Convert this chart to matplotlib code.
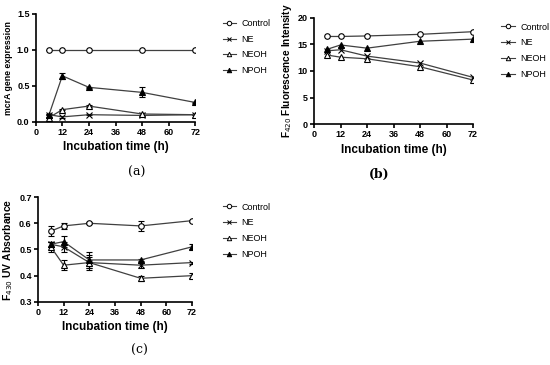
import matplotlib
matplotlib.use("Agg")
import matplotlib.pyplot as plt
from matplotlib.lines import Line2D

plt.rcParams['font.family'] = ['Liberation Sans', 'DejaVu Sans']

hours = [6, 12, 24, 48, 72]
series = ['Control', 'NE', 'NEOH', 'NPOH']

# (a) mcrA gene expression
mcra = {
    'Control': [1.0, 1.0, 1.0, 1.0, 1.0],
    'NE': [0.10, 0.07, 0.10, 0.09, 0.10],
    'NEOH': [0.06, 0.17, 0.22, 0.11, 0.10],
    'NPOH': [0.10, 0.64, 0.48, 0.41, 0.27],
}
mcra_err = {
    'Control': [0, 0, 0, 0, 0],
    'NE': [0.01, 0.01, 0.01, 0.01, 0.01],
    'NEOH': [0.01, 0.01, 0.01, 0.02, 0.01],
    'NPOH': [0.01, 0.04, 0.01, 0.07, 0.01],
}

# (b) F420 fluorescence intensity
f420 = {
    'Control': [16.5, 16.5, 16.6, 16.9, 17.4],
    'NE': [13.8, 14.0, 12.8, 11.5, 8.8],
    'NEOH': [13.0, 12.6, 12.3, 10.8, 8.3],
    'NPOH': [14.1, 14.9, 14.3, 15.6, 16.0],
}

# (c) F430 UV absorbance
f430 = {
    'Control': [0.57, 0.59, 0.60, 0.59, 0.61],
    'NE': [0.52, 0.51, 0.45, 0.44, 0.45],
    'NEOH': [0.51, 0.44, 0.45, 0.39, 0.40],
    'NPOH': [0.52, 0.53, 0.46, 0.46, 0.51],
}
f430_err = {
    'Control': [0.02, 0.01, 0.004, 0.02, 0.004],
    'NE': [0.01, 0.02, 0.02, 0.01, 0.004],
    'NEOH': [0.02, 0.02, 0.03, 0.01, 0.01],
    'NPOH': [0.01, 0.02, 0.03, 0.005, 0.01],
}

styles = {
    'Control': dict(marker='o', mfc='white'),
    'NE': dict(marker='x', mfc='black'),
    'NEOH': dict(marker='^', mfc='white'),
    'NPOH': dict(marker='^', mfc='black'),
}
line_col = '#404040'


def draw(ax, data, err, ylim, yticks, ylabel, ylabelsize):
    for s in series:
        e = err[s] if err is not None else None
        ax.errorbar(hours, data[s], yerr=e, color=line_col, lw=0.9,
                    marker=styles[s]['marker'], mfc=styles[s]['mfc'],
                    mec='black', ms=4, mew=0.8, ecolor='black',
                    elinewidth=0.8, capsize=2, capthick=0.8, label=s)
    ax.set_xlim(0, 72)
    ax.set_xticks([0, 12, 24, 36, 48, 60, 72])
    ax.set_ylim(*ylim)
    ax.set_yticks(yticks)
    for sp in ['top', 'right']:
        ax.spines[sp].set_visible(False)
    for sp in ['left', 'bottom']:
        ax.spines[sp].set_linewidth(1.2)
    ax.tick_params(width=1.2, length=3, labelsize=6.5, pad=1.5)
    for lab in ax.get_xticklabels() + ax.get_yticklabels():
        lab.set_fontweight('bold')
    ax.set_xlabel('Incubation time (h)', fontsize=8.5, fontweight='bold', labelpad=3)
    ax.set_ylabel(ylabel, fontsize=ylabelsize, fontweight='bold', labelpad=3)


def legend(fig, x, y):
    handles = [Line2D([], [], color=line_col, lw=0.8, marker=styles[s]['marker'],
                      mfc=styles[s]['mfc'], mec='black', ms=3.2, mew=0.7)
               for s in series]
    fig.legend(handles, series, loc='upper left', bbox_to_anchor=(x, y),
               frameon=False, fontsize=6.5, handlelength=1.5, handletextpad=0.6,
               labelspacing=0.75, borderaxespad=0)


fig = plt.figure(figsize=(5.5, 3.65), dpi=100)

ax_a = fig.add_axes([0.065, 0.666, 0.29, 0.296])
draw(ax_a, mcra, mcra_err, (0, 1.5), [0, 0.5, 1.0, 1.5], 'mcrA gene expression', 6.3)
ax_a.set_yticklabels(['0.0', '0.5', '1.0', '1.5'], fontweight='bold')
legend(fig, 0.398, 0.958)

ax_b = fig.add_axes([0.571, 0.660, 0.289, 0.291])
draw(ax_b, f420, None, (0, 20), [0, 5, 10, 15, 20], 'F$_{420}$ Fluorescence Intensity', 7.3)
legend(fig, 0.905, 0.948)

ax_c = fig.add_axes([0.069, 0.173, 0.280, 0.287])
draw(ax_c, f430, f430_err, (0.3, 0.7), [0.3, 0.4, 0.5, 0.6, 0.7], 'F$_{430}$ UV Absorbance', 7.5)
legend(fig, 0.398, 0.455)

fig.text(0.249, 0.527, '(a)', family='DejaVu Serif', fontsize=9, ha='center', va='center')
fig.text(0.689, 0.523, '(b)', family='DejaVu Serif', fontsize=9, fontweight='bold', ha='center', va='center')
fig.text(0.253, 0.041, '(c)', family='DejaVu Serif', fontsize=9, ha='center', va='center')

fig.savefig('out.png', dpi=100)
